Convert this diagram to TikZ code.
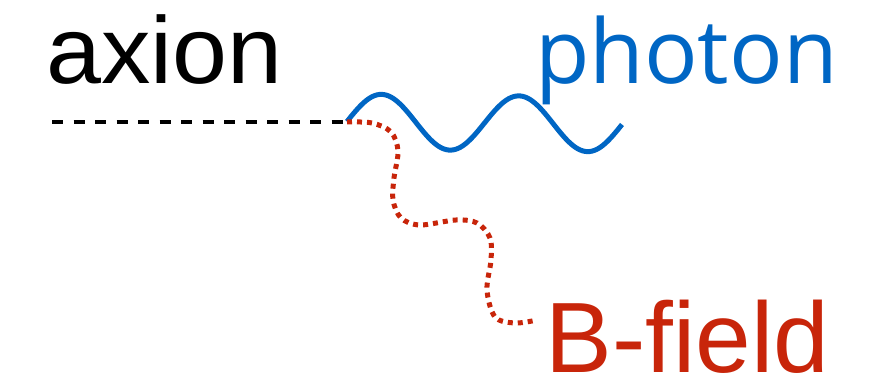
\documentclass[tikz,border=0pt]{standalone}
\usepackage{fontspec}
\newfontfamily\helv{Liberation Sans}
\newfontfamily\osans{Open Sans}
\definecolor{phblue}{HTML}{0066C4}
\definecolor{bred}{HTML}{C8250A}
\begin{document}
\begin{tikzpicture}[x=1pt,y=-1pt,
  lbl/.style={anchor=base west,inner sep=0pt,outer sep=0pt},
  axionline/.style={line width=4.5pt,dash pattern=on 11pt off 10.5pt,black},
  photonline/.style={line width=5pt,phblue},
  bline/.style={line width=5pt,dash pattern=on 5pt off 5pt,bred}]
\useasboundingbox (0,0) rectangle (892,382);
\node[lbl] (axion) at (46.5,84) {\scalebox{1.04}[1]{\helv\fontsize{95}{100}\selectfont axion}};
\node[lbl,text=phblue] (photon) at (535,84) {\osans\fontsize{89}{95}\selectfont photon};
\node[lbl,text=bred,text depth=0pt] (bfield) at (545.5,372) {\helv\fontsize{100}{110}\selectfont B-field};
\coordinate (astart) at (52,122);
\coordinate (v) at (347,122);
\coordinate (bend) at (537,320);
\draw[axionline] (astart) -- (v);
\draw[photonline,shift={(v)}] plot[domain=0:720,samples=120] ({\x/720*275},{-0.5-27.5*sin(\x)+\x/720*3});
\draw[bline] plot[smooth,tension=0.55] coordinates {(v) (372,123) (391,132) (398,151) (394,178) (393,200) (401,218) (420,225) (456,220) (477,223) (490,238) (491,260) (487,290) (495,317) (515,323) (bend)};
\end{tikzpicture}
\end{document}
